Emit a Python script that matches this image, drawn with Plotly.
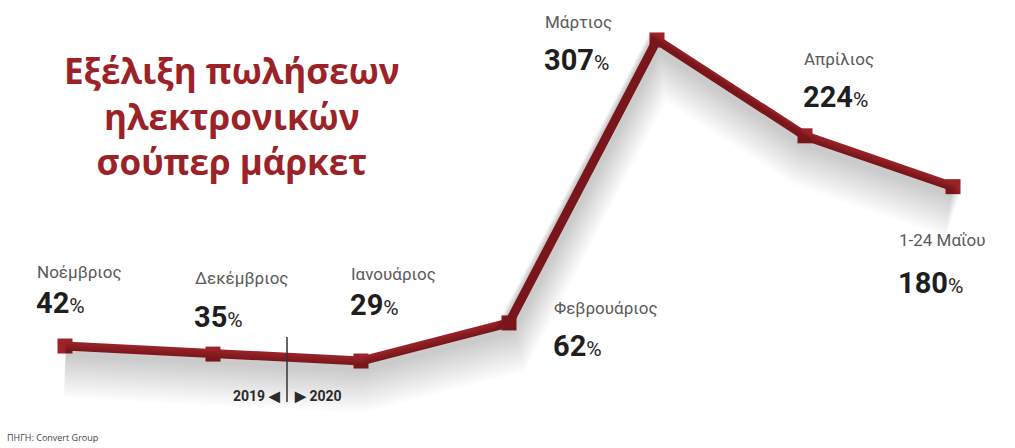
import plotly.graph_objects as go

# Monthly growth of online supermarket sales (%)
months = ["Νοέμβριος", "Δεκέμβριος", "Ιανουάριος", "Φεβρουάριος", "Μάρτιος", "Απρίλιος", "1-24 Μαΐου"]
growth = [42, 35, 29, 62, 307, 224, 180]

# label placement around each point (pixels): x shift, name y shift, value y shift
label_dx = [-30, -20, -12, 43, -114, -3, -56]
label_name_dy = [74, 76, 87, 15, 18, 77, -53]
label_value_dy = [43, 37, 56, -23, -20, 39, -96]

RED = "#9b2328"
GREY = "#5a5a5a"
NUM_FONT = "Roboto"
xs = list(range(len(months)))

W, H = 1015, 448
x_range = [-65 / 148, (W - 65) / 148]
y_range = [-46.3, 341.6]
px_per_unit = H / (y_range[1] - y_range[0])

fig = go.Figure()

# soft drop shadow below the line, drawn on offset overlay axes
shadow_layers = [(off, 10 + off * 1.3, 0.016) for off in range(4, 30, 2)]
for i, (off, width, alpha) in enumerate(shadow_layers):
    ax = f"y{i + 2}"
    d = off / px_per_unit
    fig.add_trace(go.Scatter(
        x=xs, y=growth, mode="lines", yaxis=ax,
        line=dict(color=f"rgba(0,0,0,{alpha})", width=width),
        hoverinfo="skip", showlegend=False,
    ))
    fig.layout[f"yaxis{i + 2}"] = dict(
        range=[y_range[0] + d, y_range[1] + d], overlaying="y",
        visible=False, fixedrange=True,
    )

fig.add_trace(go.Scatter(
    x=xs, y=growth, mode="lines+markers",
    line=dict(color=RED, width=9),
    marker=dict(symbol="square", size=15, color=RED),
    showlegend=False,
))

annotations = []
for i, (m, v) in enumerate(zip(months, growth)):
    annotations.append(dict(
        x=i, y=v, xref="x", yref="y", text=m, showarrow=False,
        xanchor="left", yanchor="middle", xshift=label_dx[i], yshift=label_name_dy[i],
        font=dict(family="Roboto", size=17, color=GREY),
    ))
    annotations.append(dict(
        x=i, y=v, xref="x", yref="y",
        text=f"<b>{v}</b><span style='font-size:21px;font-weight:400'>%</span>",
        showarrow=False, xanchor="left", yanchor="middle",
        xshift=label_dx[i] - 1, yshift=label_value_dy[i],
        font=dict(family=NUM_FONT, size=29, color="#1e1e1e"),
    ))

# title
annotations.append(dict(
    x=232 / W, y=1 - 116 / H, xref="paper", yref="paper",
    text="Εξέλιξη πωλήσεων<br>ηλεκτρονικών<br>σούπερ μάρκετ",
    showarrow=False, xanchor="center", yanchor="middle", align="center",
    font=dict(family="Open Sans", size=35, color=RED, weight=700),
))

# year boundary
annotations.append(dict(
    x=1.5, y=-1, xref="x", yref="y", text="<b>2019 ◀</b>", showarrow=False,
    xanchor="right", yanchor="middle", xshift=-5,
    font=dict(family=NUM_FONT, size=14, color="#2a2a2a"),
))
annotations.append(dict(
    x=1.5, y=-1, xref="x", yref="y", text="<b>▶ 2020</b>", showarrow=False,
    xanchor="left", yanchor="middle", xshift=5,
    font=dict(family=NUM_FONT, size=14, color="#2a2a2a"),
))

# source note
annotations.append(dict(
    x=5 / W, y=1 - 437 / H, xref="paper", yref="paper", text="ΠΗΓΗ: Convert Group",
    showarrow=False, xanchor="left", yanchor="middle",
    font=dict(family="Open Sans", size=9, color="#444444"),
))

fig.add_shape(type="line", xref="x", yref="y", x0=1.5, x1=1.5, y0=49.8, y1=-6.5,
              line=dict(color="#333333", width=1.5))

fig.update_layout(
    width=W, height=H,
    margin=dict(l=0, r=0, t=0, b=0),
    paper_bgcolor="white", plot_bgcolor="white",
    xaxis=dict(range=x_range, visible=False, fixedrange=True),
    yaxis=dict(range=y_range, visible=False, fixedrange=True),
    annotations=annotations,
)

fig.write_html("out.html")
